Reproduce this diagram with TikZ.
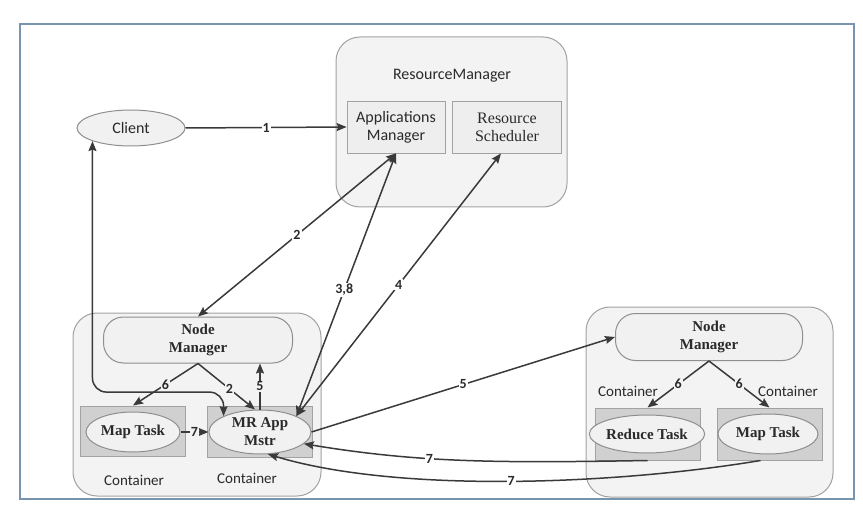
\documentclass[tikz,border=0pt]{standalone}
\usepackage{fontspec}
\setmainfont{Liberation Serif}
\setsansfont{Carlito}
\usetikzlibrary{shapes.geometric,arrows.meta}
\definecolor{frameblue}{HTML}{7895B0}
\definecolor{linegray}{HTML}{3A3A3A}
\definecolor{textgray}{HTML}{2A2A2A}
\definecolor{boxline}{HTML}{A2A2A2}
\definecolor{boxfill}{HTML}{F3F3F3}
\definecolor{inboxfill}{HTML}{EEEEEE}
\definecolor{contfill}{HTML}{D0D0D0}
\definecolor{ovalline}{HTML}{8E8E8E}
\definecolor{ovalfill}{HTML}{F1F1F1}

\begin{document}
\begin{tikzpicture}[x=1pt, y=-1pt,
    >={Stealth[length=10pt,width=8pt,inset=1.5pt]},
    conn/.style={draw=linegray, line width=1.5pt},
    sans/.style={font=\sffamily\fontsize{16}{18}\selectfont, text=textgray, align=center},
    serif/.style={font=\rmfamily\bfseries\fontsize{15}{18}\selectfont, text=textgray, align=center},
    contlabel/.style={font=\sffamily\fontsize{15}{17}\selectfont, text=textgray},
    bigbox/.style={draw=boxline, fill=boxfill, line width=1pt, rounded corners=24pt, inner sep=0pt},
    inbox/.style={draw=boxline, fill=inboxfill, line width=0.8pt, inner sep=0pt},
    cont/.style={draw=boxline, fill=contfill, line width=1pt, inner sep=0pt},
    oval/.style={ellipse, draw=ovalline, fill=ovalfill, line width=1pt, inner sep=0pt},
    pill/.style={draw=ovalline, fill=ovalfill, line width=1pt, rounded corners=20pt, inner sep=0pt},
    num/.style={font=\sffamily\bfseries\fontsize{14}{14}\selectfont, text=textgray, fill=white, inner sep=1pt},
    numbox/.style={num, fill=boxfill}]

    \useasboundingbox (0,0) rectangle (863,508);
    \draw[frameblue, line width=1.5pt] (20,24) rectangle (854,499);

    \node[bigbox, minimum width=231, minimum height=170] (rmbox) at (451.5,122) {};
    \node[sans] (rmlabel) at (452,76) {ResourceManager};
    \node[inbox, sans, minimum width=98, minimum height=52] (am) at (396,127) {Applications\\Manager};
    \node[inbox, serif, font=\rmfamily\fontsize{16}{18}\selectfont, minimum width=109, minimum height=52] (rs) at (507,127) {Resource\\Scheduler};

    \node[oval, sans, minimum width=108, minimum height=36] (client) at (131,128) {Client};

    \node[bigbox, minimum width=248, minimum height=183] (nodeL) at (197,404.5) {};
    \node[pill, serif, minimum width=189, minimum height=46] (nmL) at (198,340) {Node\\Manager};
    \node[cont, minimum width=105, minimum height=50] (contMapL) at (133,431) {};
    \node[cont, minimum width=105, minimum height=51] (contMR) at (260,431.5) {};
    \node[oval, serif, minimum width=94, minimum height=40] (mapL) at (133,432) {Map Task};
    \node[oval, serif, minimum width=102, minimum height=44] (mr) at (260,432) {MR App\\Mstr};
    \node[contlabel] (contLabelA) at (134,480) {Container};
    \node[contlabel] (contLabelB) at (247,478) {Container};

    \node[bigbox, minimum width=247, minimum height=190] (nodeR) at (709.5,402) {};
    \node[pill, serif, minimum width=187, minimum height=47] (nmR) at (709,337) {Node\\Manager};
    \node[cont, minimum width=105, minimum height=52] (contRed) at (647.5,434) {};
    \node[cont, minimum width=105, minimum height=52] (contMapR) at (769.5,434) {};
    \node[oval, serif, minimum width=101, minimum height=38] (red) at (647,434) {Reduce Task};
    \node[oval, serif, minimum width=100, minimum height=40] (mapR) at (768,434) {Map Task};
    \node[contlabel] (contLabelC) at (628,391) {Container};
    \node[contlabel] (contLabelD) at (788,391) {Container};

    \draw[conn, ->] (client.east) -- (am.west) node[midway, num] {1};
    \draw[conn, <->] (nmL.north) -- (am.south) node[midway, num] {2};
    \draw[conn, <->] (mr.north east) -- (am.south) node[pos=0.48, num] {3,8};
    \draw[conn, <->] (mr.north east) -- ([xshift=-6pt]rs.south) node[midway, num] {4};
    \draw[conn, <->, rounded corners=14pt] (client.south west) |- ([yshift=24pt]mr.north west) -- (mr.north west);

    \draw[conn, ->] (nmL.south) -- (contMapL.north) node[midway, numbox] {6};
    \draw[conn, ->] (nmL.south) -- ([xshift=-5pt]mr.north) node[pos=0.55, numbox] {2};
    \draw[conn, ->] (mr.north) -- (mr.north |- nmL.south) node[midway, numbox] {5};
    \draw[conn, ->] (mapL.east) -- (mr.west) node[midway, numbox] {7};

    \draw[conn, ->] (mr.east) -- (nmR.west) node[midway, num] {5};
    \draw[conn, ->] (nmR.south) -- (contRed.north) node[midway, numbox] {6};
    \draw[conn, ->] (nmR.south) -- (contMapR.north) node[midway, numbox] {6};

    \draw[conn, ->] (contRed.south) .. controls (500,463) and (420,463) .. (mr.-15) node[pos=0.61, num] {7};
    \draw[conn, ->] ([xshift=-9pt]contMapR.south) .. controls (620,484) and (400,494) .. (mr.-70) node[pos=0.5, num] {7};

\end{tikzpicture}
\end{document}
